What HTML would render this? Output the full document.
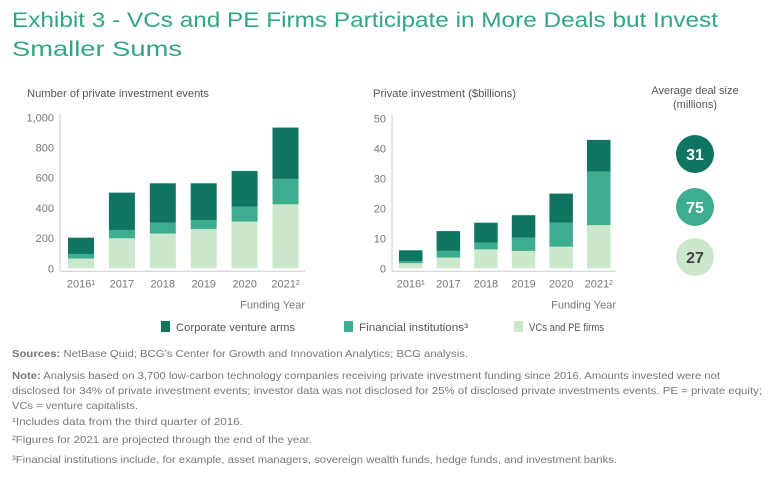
<!DOCTYPE html>
<html><head><meta charset="utf-8"><style>
html,body{margin:0;padding:0;background:#fff;}
svg{display:block;font-family:"Liberation Sans",sans-serif;}
</style></head><body>
<svg id="s" width="768" height="479" viewBox="0 0 768 479" xmlns="http://www.w3.org/2000/svg">
<g fill="#32a584" font-family="Liberation Sans, sans-serif" font-size="21">
<text x="12" y="27" textLength="706" lengthAdjust="spacingAndGlyphs">Exhibit 3 - VCs and PE Firms Participate in More Deals but Invest</text>
<text x="12" y="56" textLength="170" lengthAdjust="spacingAndGlyphs">Smaller Sums</text>
</g>
<text x="27" y="97" font-size="11" fill="#555" textLength="182" lengthAdjust="spacingAndGlyphs">Number of private investment events</text>
<text x="373" y="97" font-size="11" fill="#555" textLength="143" lengthAdjust="spacingAndGlyphs">Private investment ($billions)</text>
<g id="left"></g>
<g id="right"></g>
<g>
<text x="695" y="94" text-anchor="middle" font-size="11" fill="#555">Average deal size</text>
<text x="695" y="108" text-anchor="middle" font-size="11" fill="#555">(millions)</text>
<circle cx="695" cy="154" r="19" fill="#0f7561"/>
<text x="695" y="160" text-anchor="middle" font-size="16" font-weight="bold" fill="#fff">31</text>
<circle cx="695" cy="207" r="19" fill="#3ead8f"/>
<text x="695" y="213" text-anchor="middle" font-size="16" font-weight="bold" fill="#fff">75</text>
<circle cx="695" cy="257" r="19" fill="#cbe8cd"/>
<text x="695" y="263" text-anchor="middle" font-size="16" font-weight="bold" fill="#444">27</text>
</g>
<g font-size="11" fill="#555">
<rect x="161" y="321" width="9" height="11" fill="#0f7561"/><text x="176" y="331" textLength="119" lengthAdjust="spacingAndGlyphs">Corporate venture arms</text>
<rect x="344" y="321" width="9" height="11" fill="#3ead8f"/><text x="359" y="331" textLength="109" lengthAdjust="spacingAndGlyphs">Financial institutions³</text>
<rect x="514" y="321" width="9" height="11" fill="#cbe8cd"/><text x="529" y="331" textLength="75" lengthAdjust="spacingAndGlyphs">VCs and PE firms</text>
</g>
<g font-size="10.5" fill="#777">
<text x="12" y="357" textLength="456" lengthAdjust="spacingAndGlyphs"><tspan font-weight="bold">Sources:</tspan> NetBase Quid; BCG’s Center for Growth and Innovation Analytics; BCG analysis.</text>
<text x="12" y="379" textLength="708" lengthAdjust="spacingAndGlyphs"><tspan font-weight="bold">Note:</tspan> Analysis based on 3,700 low-carbon technology companies receiving private investment funding since 2016. Amounts invested were not</text>
<text x="12" y="394" textLength="750" lengthAdjust="spacingAndGlyphs">disclosed for 34% of private investment events; investor data was not disclosed for 25% of disclosed private investments events. PE = private equity;</text>
<text x="12" y="409" textLength="126" lengthAdjust="spacingAndGlyphs">VCs = venture capitalists.</text>
<text x="12" y="425" textLength="231" lengthAdjust="spacingAndGlyphs">¹Includes data from the third quarter of 2016.</text>
<text x="12" y="443" textLength="300" lengthAdjust="spacingAndGlyphs">²Figures for 2021 are projected through the end of the year.</text>
<text x="12" y="463" textLength="605" lengthAdjust="spacingAndGlyphs">³Financial institutions include, for example, asset managers, sovereign wealth funds, hedge funds, and investment banks.</text>
</g>
</svg>
<script>
const years = ["2016¹","2017","2018","2019","2020","2021²"];
const eventsVC = [65,199,230,260,309,424];
const eventsFI = [30,55,72,60,99,168];
const eventsCVA = [108,247,261,243,237,340];
const eventsTicks = [0,200,400,600,800,1000];
const eventsTickLabels = ["0","200","400","600","800","1,000"];
const investVC = [1.7,3.6,6.3,5.8,7.2,14.4];
const investFI = [0.7,2.2,2.3,4.4,8.0,17.8];
const investCVA = [3.6,6.6,6.6,7.5,9.7,10.6];
const investTicks = [0,10,20,30,40,50];
const investTickLabels = ["0","10","20","30","40","50"];
const colors = {cva:"#0f7561",fi:"#3ead8f",vc:"#cbe8cd"};
const NS="http://www.w3.org/2000/svg";
function mk(tag,attrs,parent){const e=document.createElementNS(NS,tag);for(const k in attrs)e.setAttribute(k,attrs[k]);parent.appendChild(e);return e;}
function chart(g,opt){
  const y=v=>opt.y0-(v/opt.max)*(opt.y0-opt.y1);
  const x=i=>opt.x0+i*opt.step;
  mk('line',{x1:opt.axisX,y1:opt.y1-4,x2:opt.axisX,y2:opt.y0+3,stroke:'#ccc','stroke-width':1},g);
  mk('line',{x1:opt.axisX,y1:opt.y0+3,x2:opt.axisEnd,y2:opt.y0+3,stroke:'#ccc','stroke-width':1},g);
  opt.ticks.forEach((t,i)=>{const tx=mk('text',{x:opt.axisX-6,y:y(t)+4,'text-anchor':'end','font-size':11,fill:'#777'},g);tx.textContent=opt.tickLabels[i];
    
    });
  years.forEach((yr,i)=>{
    let base=0;
    [['vc',opt.vc[i]],['fi',opt.fi[i]],['cva',opt.cva[i]]].forEach(([k,v])=>{
      const r=mk('rect',{x:x(i),y:y(base+v),width:opt.w,height:y(base)-y(base+v),fill:colors[k]},g);
      
      
      base+=v;
    });
    const tx=mk('text',{x:x(i)+opt.w/2,y:opt.y0+19,'text-anchor':'middle','font-size':11,fill:'#777'},g);
    tx.textContent=yr;
    
    
  });
  const ft=mk('text',{x:opt.axisEnd,y:opt.y0+40,'text-anchor':'end','font-size':11,fill:'#777'},g);
  ft.textContent='Funding Year';
  
  
}
chart(document.getElementById('left'),{x0:68,step:40.9,w:26,y0:268.3,y1:117.3,max:1000,axisX:60,axisEnd:305,vc:eventsVC,fi:eventsFI,cva:eventsCVA,ticks:eventsTicks,tickLabels:eventsTickLabels});
chart(document.getElementById('right'),{x0:399,step:37.6,w:23.5,y0:268.3,y1:118.3,max:50,axisX:392,axisEnd:616,vc:investVC,fi:investFI,cva:investCVA,ticks:investTicks,tickLabels:investTickLabels});
</script>
</body></html>
